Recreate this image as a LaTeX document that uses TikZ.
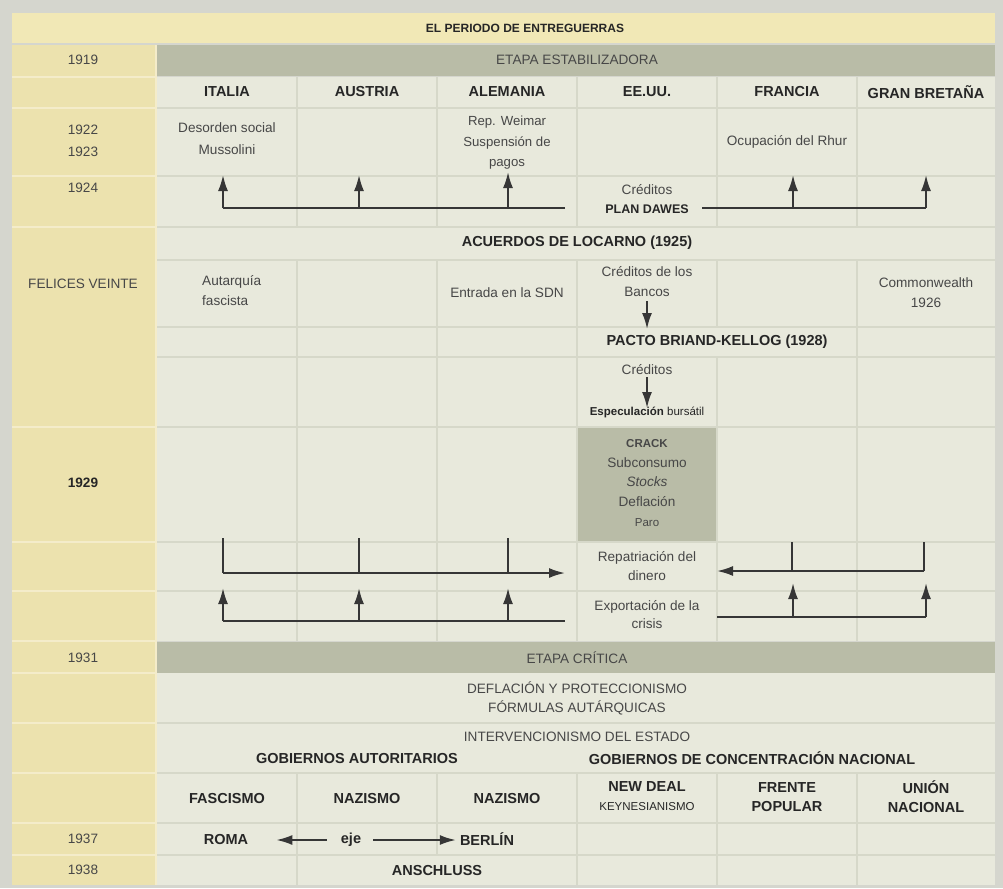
\documentclass[tikz,border=0pt]{standalone}
\usepackage{fontspec}
\setmainfont{Liberation Sans}
\usetikzlibrary{arrows.meta}

\definecolor{outerbg}{HTML}{D5D6CE}
\definecolor{titlebg}{HTML}{F1E8B6}
\definecolor{yearbg}{HTML}{ECE2AE}
\definecolor{yearline}{HTML}{F4ECCA}
\definecolor{stagebg}{HTML}{B9BCA7}
\definecolor{cellbg}{HTML}{E8E9DC}
\definecolor{gridline}{HTML}{D6D8C9}
\definecolor{txtgray}{HTML}{474747}
\definecolor{txtdark}{HTML}{262626}
\definecolor{arrowgray}{HTML}{363636}

\begin{document}
\begin{tikzpicture}[x=1pt, y=-1pt]
	\tikzstyle{txt}=[inner sep=0pt, align=center, text=txtgray, font=\fontsize{13.6}{19}\selectfont]
	\tikzstyle{boldtxt}=[txt, text=txtdark, font=\fontsize{14.5}{19}\selectfont\bfseries]
	\tikzstyle{smalltxt}=[txt, font=\fontsize{11.5}{19}\selectfont]
	\tikzstyle{gridrule}=[draw=gridline, line width=1.3pt]
	\tikzstyle{yearrule}=[draw=yearline, line width=1.3pt]
	\tikzstyle{conn}=[draw=arrowgray, line width=1.9pt]
	\tikzstyle{arr}=[conn, -{Latex[length=16pt, width=10pt]}]
	\useasboundingbox (0,0) rectangle (1003,888);
	% fills
	\fill[outerbg] (0,0) rectangle (1003,888);
	\fill[titlebg] (12,13) rectangle (995,43);
	\fill[yearbg] (12,45) rectangle (155,885);
	\fill[stagebg] (157,45) rectangle (995,76);
	\fill[stagebg] (157,642) rectangle (995,673);
	\fill[cellbg] (157,77) rectangle (995,641);
	\fill[cellbg] (157,673) rectangle (995,885);
	\fill[stagebg] (577,428) rectangle (717,541);
	% grid
	\draw[yearrule] (156,45) -- (156,885);
	\foreach \y in {77,108,176,227,427,542,591,641,673,723,773,823,855}
		\draw[yearrule] (12,\y) -- (155,\y);
	\foreach \y in {108,176,227,260,327,357,427,542,591,723,773,823,855}
		\draw[gridrule] (157,\y) -- (995,\y);
	\foreach \x in {297,437,577,717,857} {
		\draw[gridrule] (\x,77) -- (\x,227);
		\draw[gridrule] (\x,260) -- (\x,327);
		\draw[gridrule] (\x,357) -- (\x,641);
		\draw[gridrule] (\x,773) -- (\x,855);
	}
	\foreach \x in {297,437,577,857}
		\draw[gridrule] (\x,327) -- (\x,357);
	\foreach \x in {297,577,717,857}
		\draw[gridrule] (\x,855) -- (\x,885);
	% texts
	\node[boldtxt, font=\fontsize{12}{19}\selectfont\bfseries] (title) at (525,28) {EL PERIODO DE ENTREGUERRAS};
	\node[txt] (y1919) at (83,60) {1919};
	\node[txt] (stageA) at (577,60) {ETAPA ESTABILIZADORA};
	\node[boldtxt] (italia) at (227,92) {ITALIA};
	\node[boldtxt] (austria) at (367,92) {AUSTRIA};
	\node[boldtxt] (alemania) at (507,92) {ALEMANIA};
	\node[boldtxt] (eeuu) at (647,92) {EE.UU.};
	\node[boldtxt] (francia) at (787,92) {FRANCIA};
	\node[boldtxt] (gbretana) at (926,92) {GRAN BRETAÑA};
	\node[txt, font=\fontsize{13.6}{22}\selectfont] (y1922) at (83,141) {1922\\1923};
	\node[txt, font=\fontsize{13.6}{22}\selectfont] (desorden) at (227,139) {Desorden social\\Mussolini};
	\node[txt, font=\fontsize{13.2}{20.5}\selectfont] (weimar) at (507,143) {Rep. Weimar\\Suspensión de\\pagos};
	\node[txt] (rhur) at (787,142) {Ocupación del Rhur};
	\node[txt] (y1924) at (83,188) {1924};
	\node[txt] (creditosA) at (647,190) {Créditos};
	\node[boldtxt, font=\fontsize{12.5}{19}\selectfont\bfseries] (dawes) at (647,209) {PLAN DAWES};
	\node[boldtxt] (locarno) at (577,243) {ACUERDOS DE LOCARNO (1925)};
	\node[txt] (felices) at (83,284) {FELICES VEINTE};
	\node[txt, align=left, anchor=west, font=\fontsize{13.6}{20}\selectfont] (autarquia) at (202,291) {Autarquía\\fascista};
	\node[txt] (sdn) at (507,293) {Entrada en la SDN};
	\node[txt, font=\fontsize{13.6}{20}\selectfont] (bancos) at (647,282) {Créditos de los\\Bancos};
	\node[txt, font=\fontsize{13.6}{20}\selectfont] (commonw) at (926,293) {Commonwealth\\1926};
	\node[boldtxt] (pacto) at (717,342) {PACTO BRIAND-KELLOG (1928)};
	\node[txt] (creditosB) at (647,370) {Créditos};
	\node[smalltxt, text=txtdark] (especul) at (647,412) {\textbf{Especulación} bursátil};
	\node[boldtxt, font=\fontsize{13.6}{19}\selectfont\bfseries] (y1929) at (83,483) {1929};
	\node[txt, font=\fontsize{13.6}{19.8}\selectfont] (crack) at (647,483) {{\fontsize{11.5}{19.8}\selectfont\bfseries CRACK}\\Subconsumo\\\textit{Stocks}\\Deflación\\{\fontsize{11.5}{19.8}\selectfont Paro}};
	\node[txt, font=\fontsize{13.6}{19}\selectfont] (repat) at (647,566) {Repatriación del\\dinero};
	\node[txt, font=\fontsize{13.6}{18}\selectfont] (export) at (647,615) {Exportación de la\\crisis};
	\node[txt] (y1931) at (83,658) {1931};
	\node[txt] (stageB) at (577,658) {ETAPA CRÍTICA};
	\node[txt] (deflacion) at (577,698) {DEFLACIÓN Y PROTECCIONISMO\\FÓRMULAS AUTÁRQUICAS};
	\node[txt] (interv) at (577,737) {INTERVENCIONISMO DEL ESTADO};
	\node[boldtxt] (autorit) at (357,758) {GOBIERNOS AUTORITARIOS};
	\node[boldtxt] (concentr) at (752,758) {GOBIERNOS DE CONCENTRACIÓN NACIONAL};
	\node[boldtxt] (fascismo) at (227,798) {FASCISMO};
	\node[boldtxt] (nazismoA) at (367,798) {NAZISMO};
	\node[boldtxt] (nazismoB) at (507,798) {NAZISMO};
	\node[boldtxt] (newdeal) at (647,796) {NEW DEAL\\{\mdseries\fontsize{11.5}{19}\selectfont KEYNESIANISMO}};
	\node[boldtxt] (frente) at (787,797) {FRENTE\\POPULAR};
	\node[boldtxt] (union) at (926,797) {UNIÓN\\NACIONAL};
	\node[txt] (y1937) at (83,839) {1937};
	\node[boldtxt] (roma) at (226,839) {ROMA};
	\node[boldtxt] (eje) at (351,840) {eje};
	\node[boldtxt] (berlin) at (487,839) {BERLÍN};
	\node[txt] (y1938) at (83,870) {1938};
	\node[boldtxt] (anschluss) at (437,870) {ANSCHLUSS};
	% connectors 1924
	\coordinate (dwL) at (565,208);
	\coordinate (dwR) at (702,208);
	\coordinate (dwIt) at (223,208);
	\coordinate (dwAu) at (359,208);
	\coordinate (dwAl) at (508,208);
	\coordinate (dwFr) at (793,208);
	\coordinate (dwGb) at (926,208);
	\draw[conn] (dwL) -- (dwIt);
	\draw[conn] (dwR) -- (dwGb);
	\draw[arr] (dwIt) -- (223,175);
	\draw[arr] (dwAu) -- (359,175);
	\draw[arr] (dwAl) -- (508,172);
	\draw[arr] (dwFr) -- (793,175);
	\draw[arr] (dwGb) -- (926,175);
	\coordinate (pactoTop) at (647,329);
	\draw[arr] (bancos.south) ++(0,4) -- (pactoTop);
	\coordinate (especTop) at (647,408);
	\draw[arr] (creditosB.south) ++(0,2) -- (especTop);
	% connectors 1929
	\coordinate (rpIt) at (223,573);
	\coordinate (rpAu) at (359,573);
	\coordinate (rpAl) at (508,573);
	\coordinate (rpEnd) at (565,573);
	\coordinate (rpFr) at (792,571);
	\coordinate (rpGb) at (924,571);
	\coordinate (rpStart) at (717,571);
	\draw[conn] (223,538) -- (rpIt);
	\draw[conn] (359,538) -- (rpAu);
	\draw[conn] (508,538) -- (rpAl);
	\draw[arr] (rpIt) -- (rpEnd);
	\draw[conn] (792,542) -- (rpFr);
	\draw[conn] (924,542) -- (rpGb);
	\draw[arr] (rpGb) -- (rpStart);
	\coordinate (exIt) at (223,621);
	\coordinate (exAu) at (359,621);
	\coordinate (exAl) at (508,621);
	\coordinate (exEnd) at (565,621);
	\coordinate (exStart) at (717,617);
	\coordinate (exFr) at (793,617);
	\coordinate (exGb) at (926,617);
	\draw[conn] (exIt) -- (exEnd);
	\draw[arr] (exIt) -- (223,588);
	\draw[arr] (exAu) -- (359,588);
	\draw[arr] (exAl) -- (508,588);
	\draw[conn] (exStart) -- (exGb);
	\draw[arr] (exFr) -- (793,583);
	\draw[arr] (exGb) -- (926,583);
	% eje
	\draw[arr, shorten <=14pt, shorten >=28pt] (eje.west) -- (eje.west -| roma.east);
	\draw[arr, shorten <=12pt, shorten >=4pt] (eje.east) -- (eje.east -| berlin.west);
\end{tikzpicture}
\end{document}
